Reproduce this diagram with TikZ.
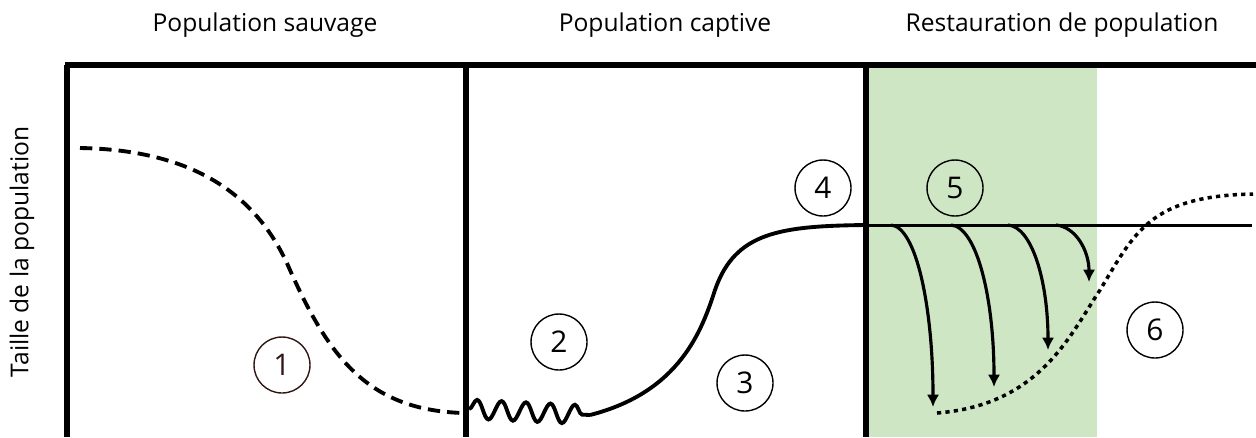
\documentclass[tikz,border=0pt]{standalone}
\usepackage{fontspec}
\setmainfont{Open Sans}
\usepackage{xcolor}
\usetikzlibrary{arrows.meta,decorations.pathmorphing}
\definecolor{vertclair}{RGB}{207, 230, 196}
\definecolor{brunfonce}{RGB}{50, 22, 22}

\tikzset{
  cadre/.style={line width=2.9pt},
  courbe/.style={line width=2.2pt},
  etape/.style={circle, draw, line width=0.8pt, minimum size=1.12cm, inner sep=0pt, font=\fontsize{17}{17}\selectfont},
  titre/.style={font=\fontsize{14}{14}\selectfont},
  fleche/.style={line width=1.8pt, -{Latex[length=7pt,width=7pt]}}
}

\begin{document}
\begin{tikzpicture}[x=0.02cm, y=-0.02cm]
    \useasboundingbox (0,0) rectangle (1256,437);

    % Zone verte de la restauration
    \fill[vertclair] (869,67) rectangle (1097,437);

    % Cadre avec les trois phases
    \draw[cadre] (65,65) -- (1256,65);
    \draw[cadre] (67,65) -- (67,437);
    \draw[cadre] (466,65) -- (466,437);
    \draw[cadre] (866,65) -- (866,437);

    % Titres des phases
    \node[titre] (sauvage) at (265,25) {Population sauvage};
    \node[titre] (captive) at (665,25) {Population captive};
    \node[titre] (restauration) at (1062,25) {Restauration de population};
    \node[titre, rotate=90] (taille) at (22,252) {Taille de la population};

    % Points de passage des courbes
    \coordinate (d1) at (80,148);
    \coordinate (d2) at (463,413);
    \coordinate (z1) at (469,409);
    \coordinate (z2) at (590,415);
    \coordinate (c1) at (866,225);
    \coordinate (c2) at (1252,225);
    \coordinate (p1) at (937,413);
    \coordinate (p2) at (1253,194);

    % Declin de la population sauvage (tirets)
    \draw[courbe, dash pattern=on 7pt off 4pt] (d1) .. controls (200,150) and (260,200) .. (290,270)
        .. controls (330,360) and (370,410) .. (d2);

    % Fluctuations puis croissance en captivite
    \draw[courbe, decorate, decoration={snake, amplitude=0.19cm, segment length=0.49cm}] (z1) -- (z2);
    \draw[courbe] (z2) .. controls (680,392) and (702,330) .. (715,290)
        .. controls (735,232) and (780,226) .. (c1);
    \draw[line width=1.7pt] (c1) -- (c2);

    % Lachers successifs
    \foreach \xa/\xb/\yb in {891/933/407, 951/994/387, 1008/1048/350, 1056/1089/282}{
        \draw[fleche] (\xa,225) .. controls ({\xa+0.6*(\xb-\xa)},227) and (\xb,{225+0.45*(\yb-225)}) .. (\xb,\yb);
    }

    % Retablissement de la population (pointilles)
    \draw[line width=2pt, dash pattern=on 2.4pt off 2.4pt] (p1) .. controls (1040,405) and (1070,335) .. (1100,290)
        .. controls (1135,232) and (1150,196) .. (p2);

    % Etapes numerotees
    \node[etape, draw=brunfonce, text=brunfonce] (e1) at (282,365) {1};
    \node[etape] (e2) at (559,342) {2};
    \node[etape] (e3) at (745,383) {3};
    \node[etape] (e4) at (823,188) {4};
    \node[etape] (e5) at (955,188) {5};
    \node[etape] (e6) at (1155,330) {6};

\end{tikzpicture}
\end{document}
